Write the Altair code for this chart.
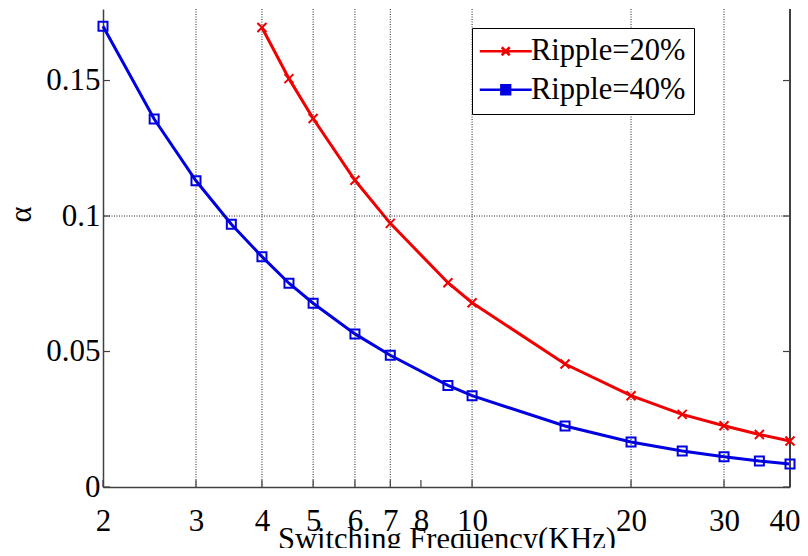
import altair as alt
import pandas as pd

# ---- data ----
series_names = ["Ripple=20%", "Ripple=40%"]
series_colors = ["#f00000", "#0000e0"]

freq_20 = [4, 4.5, 5, 6, 7, 9, 10, 15, 20, 25, 30, 35, 40]
alpha_20 = [0.1696, 0.1507, 0.1360, 0.1132, 0.0973, 0.0754, 0.0680,
            0.0454, 0.0337, 0.0268, 0.0226, 0.0194, 0.0170]

freq_40 = [2, 2.5, 3, 3.5, 4, 4.5, 5, 6, 7, 9, 10, 15, 20, 25, 30, 35, 40]
alpha_40 = [0.1700, 0.1358, 0.1130, 0.0970, 0.0850, 0.0752, 0.0678, 0.0565,
            0.0486, 0.0375, 0.0337, 0.0225, 0.0166, 0.0133, 0.0112, 0.0096, 0.0085]

x_ticks = [2, 3, 4, 5, 6, 7, 8, 10, 20, 30, 40]
y_ticks = [0, 0.05, 0.1, 0.15]
x_grid = [3, 4, 5, 6, 7, 10, 20, 30]
y_grid = [0.1]

x_title = "Switching Frequency(KHz)"
y_title = "α"

# ---- tables ----
df = pd.DataFrame({
    "series": [series_names[0]] * len(freq_20) + [series_names[1]] * len(freq_40),
    "freq": freq_20 + freq_40,
    "alpha": alpha_20 + alpha_40,
})
gx = pd.DataFrame({"freq": x_grid})
gy = pd.DataFrame({"alpha": y_grid})
tx = pd.DataFrame({"freq": x_ticks})
ty = pd.DataFrame({"alpha": y_ticks})

W, H = 687, 478
FONT = "Liberation Serif"
AX = "#404040"

xs = alt.Scale(type="log", domain=[2, 40], nice=False)
ys = alt.Scale(domain=[0, 0.1764], nice=False, zero=False)

X_PATH = "M-1,-1L1,1M-1,1L1,-1"
LEG_X = "M-6.5,0H6.5M-1,-1L1,1M-1,1L1,-1"
LEG_SQ = "M-6.5,0H6.5M-1.1,-1.1H1.1V1.1H-1.1ZM-0.5,-0.5H0.5V0.5H-0.5Z"

leg = alt.Legend(title=None, orient="none", legendX=369, legendY=19)
color_enc = alt.Color("series:N", legend=leg,
                      scale=alt.Scale(domain=series_names, range=series_colors))

last_tick = "datum.value >= 40"
x_main = alt.X("freq:Q", scale=xs,
               axis=alt.Axis(values=x_ticks, title=x_title, format="~g",
                             labelFlush=False, labelPadding=19,
                             labelAlign={"condition": {"test": last_tick, "value": "right"},
                                         "value": "center"},
                             labelOffset={"condition": {"test": last_tick, "value": 10},
                                          "value": 0},
                             titleY=61, titleBaseline="alphabetic"))
y_main = alt.Y("alpha:Q", scale=ys,
               axis=alt.Axis(values=y_ticks, title=y_title, format="~g",
                             labelPadding=3, titleAngle=270, titleAlign="center",
                             titleBaseline="middle", titleX=-82, titleY=205))
x_plain = alt.X("freq:Q", scale=xs)
y_plain = alt.Y("alpha:Q", scale=ys)

grid_v = alt.Chart(gx).mark_rule(color="#202020", strokeWidth=1, strokeDash=[1, 1.5]).encode(
    x=x_plain)
grid_h = alt.Chart(gy).mark_rule(color="#202020", strokeWidth=1, strokeDash=[1, 1.5]).encode(
    y=y_plain)

lines = alt.Chart(df).mark_line(strokeWidth=3).encode(
    x=x_main, y=y_main, color=color_enc)

pts_red = alt.Chart(df).transform_filter(
    alt.datum.series == series_names[0]
).mark_point(shape=X_PATH, filled=False, size=81, strokeWidth=2, color=series_colors[0],
             opacity=1).encode(x=x_plain, y=y_plain)

pts_blue = alt.Chart(df).transform_filter(
    alt.datum.series == series_names[1]
).mark_point(shape="square", filled=False, size=81, strokeWidth=2, color=series_colors[1],
             opacity=1).encode(x=x_plain, y=y_plain)

legend_layer = alt.Chart(df).transform_filter("false").mark_point(
    filled=False, strokeWidth=2.5, opacity=1).encode(
    x=x_plain, y=y_plain,
    color=color_enc,
    shape=alt.Shape("series:N", legend=leg,
                    scale=alt.Scale(domain=series_names, range=[LEG_X, LEG_SQ])),
)

tick_b = alt.Chart(tx).mark_rule(color=AX, strokeWidth=1.2).encode(
    x=x_plain, y=alt.value(H), y2=alt.value(H - 7))
tick_l = alt.Chart(ty).mark_rule(color=AX, strokeWidth=1.2).encode(
    y=y_plain, x=alt.value(0), x2=alt.value(7))
tick_r = alt.Chart(ty).mark_rule(color=AX, strokeWidth=1.2).encode(
    y=y_plain, x=alt.value(W), x2=alt.value(W - 7))
right_border = alt.Chart(ty).mark_rule(color=AX, strokeWidth=1.5).encode(
    x=alt.value(W), y=alt.value(0), y2=alt.value(H))

chart = alt.layer(
    lines, grid_v, grid_h, tick_b, tick_l, tick_r, right_border,
    pts_red, pts_blue, legend_layer
).properties(
    width=W, height=H,
    background="white",
    autosize=alt.AutoSizeParams(type="none"),
    padding={"left": 95, "top": 1, "right": 10, "bottom": 61},
).configure_view(
    stroke=None
).configure_axis(
    grid=False, ticks=False, tickSize=0,
    domainColor=AX, domainWidth=1.5,
    labelFont=FONT, labelFontSize=31, labelColor="black", labelOverlap=False,
    titleFont=FONT, titleFontWeight="normal", titleColor="black", titleFontSize=30.5,
).configure_legend(
    strokeColor="black", fillColor="white", padding=8, cornerRadius=0,
    labelFont=FONT, labelFontSize=30.5, labelColor="black", labelLimit=400,
    symbolSize=64, symbolStrokeWidth=2.5, symbolOffset=10.5, labelOffset=10,
    rowPadding=7.5,
)

chart.save("out.html", embed_options={"renderer": "svg", "actions": False})
